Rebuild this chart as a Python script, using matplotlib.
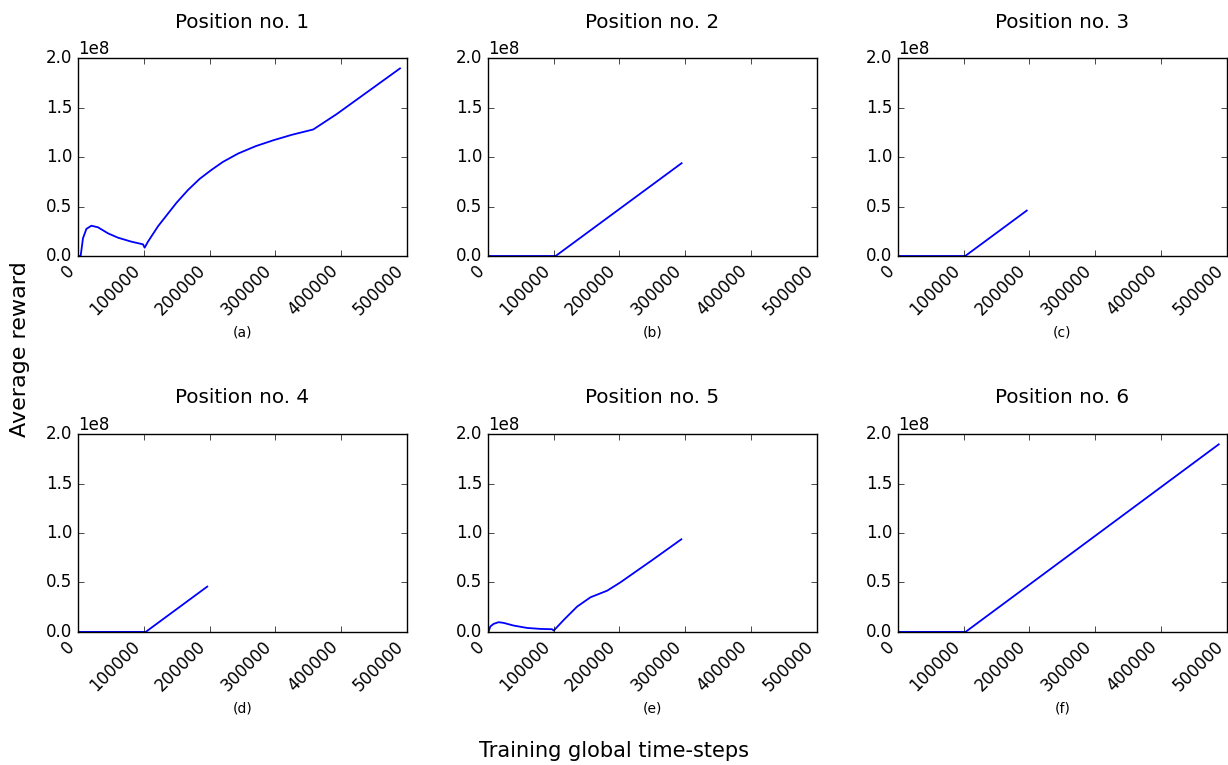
import numpy as np
import matplotlib
matplotlib.use("Agg")
import matplotlib.pyplot as plt

plt.style.use("classic")
plt.rcParams["font.family"] = ["DejaVu Sans"]

# one curve per position
steps_1 = [0, 4050, 7600, 12700, 20300, 30400, 45600, 60800, 81000, 98800, 101300,
           106400, 121600, 141800, 150000, 167200, 185000, 202600, 220000, 243200,
           270000, 297000, 325000, 357600, 393100, 489400]
reward_1 = [0, 0, 0.179e8, 0.273e8, 0.306e8, 0.29e8, 0.229e8, 0.185e8, 0.145e8,
            0.118e8, 0.084e8, 0.145e8, 0.30e8, 0.471e8, 0.54e8, 0.667e8, 0.78e8,
            0.869e8, 0.95e8, 1.035e8, 1.11e8, 1.17e8, 1.225e8, 1.279e8, 1.434e8,
            1.896e8]

steps_2 = [0, 103000, 294400]
reward_2 = [0, 0, 0.938e8]

steps_3 = [0, 102500, 196000]
reward_3 = [0, 0, 0.459e8]

steps_4 = [0, 103000, 196500]
reward_4 = [0, 0, 0.458e8]

steps_5 = [0, 1000, 3600, 8640, 16260, 23900, 39100, 59500, 79800, 97600, 100100,
           115300, 135700, 156000, 181400, 201700, 250000, 294000]
reward_5 = [0, 0, 0.054e8, 0.081e8, 0.098e8, 0.091e8, 0.064e8, 0.040e8, 0.030e8,
            0.027e8, 0.013e8, 0.121e8, 0.256e8, 0.35e8, 0.417e8, 0.502e8, 0.727e8,
            0.936e8]

steps_6 = [0, 103000, 487800]
reward_6 = [0, 0, 1.896e8]

titles = ["Position no. %d" % i for i in range(1, 7)]
panel_labels = ["(a)", "(b)", "(c)", "(d)", "(e)", "(f)"]
x_ticks = [0, 100000, 200000, 300000, 400000, 500000]
y_ticks = [0, 0.5e8, 1.0e8, 1.5e8, 2.0e8]

all_steps = [steps_1, steps_2, steps_3, steps_4, steps_5, steps_6]
all_rewards = [reward_1, reward_2, reward_3, reward_4, reward_5, reward_6]

fig, axes = plt.subplots(2, 3, figsize=(12.28, 7.65), dpi=100, facecolor="white")
fig.subplots_adjust(left=0.0635, right=0.999, top=0.924, bottom=0.174,
                    wspace=0.246, hspace=0.9)

for ax, x, y, title, lab in zip(axes.flat, all_steps, all_rewards, titles, panel_labels):
    ax.plot(x, y, color="b", linewidth=1.3)
    ax.set_xlim(0, 500000)
    ax.set_ylim(0, 2e8)
    ax.set_xticks(x_ticks)
    ax.set_yticks(y_ticks)
    ax.set_xticklabels([str(t) for t in x_ticks], rotation=45, ha="right")
    ax.set_title(title, pad=22)
    ax.set_xlabel(lab, fontsize=10)

fig.text(0.5, 0.018, "Training global time-steps", ha="center", va="center", fontsize=15)
fig.text(0.016, 0.543, "Average reward", ha="center", va="center",
         rotation=90, fontsize=16)

fig.savefig("out.png", dpi=100, facecolor="white")
